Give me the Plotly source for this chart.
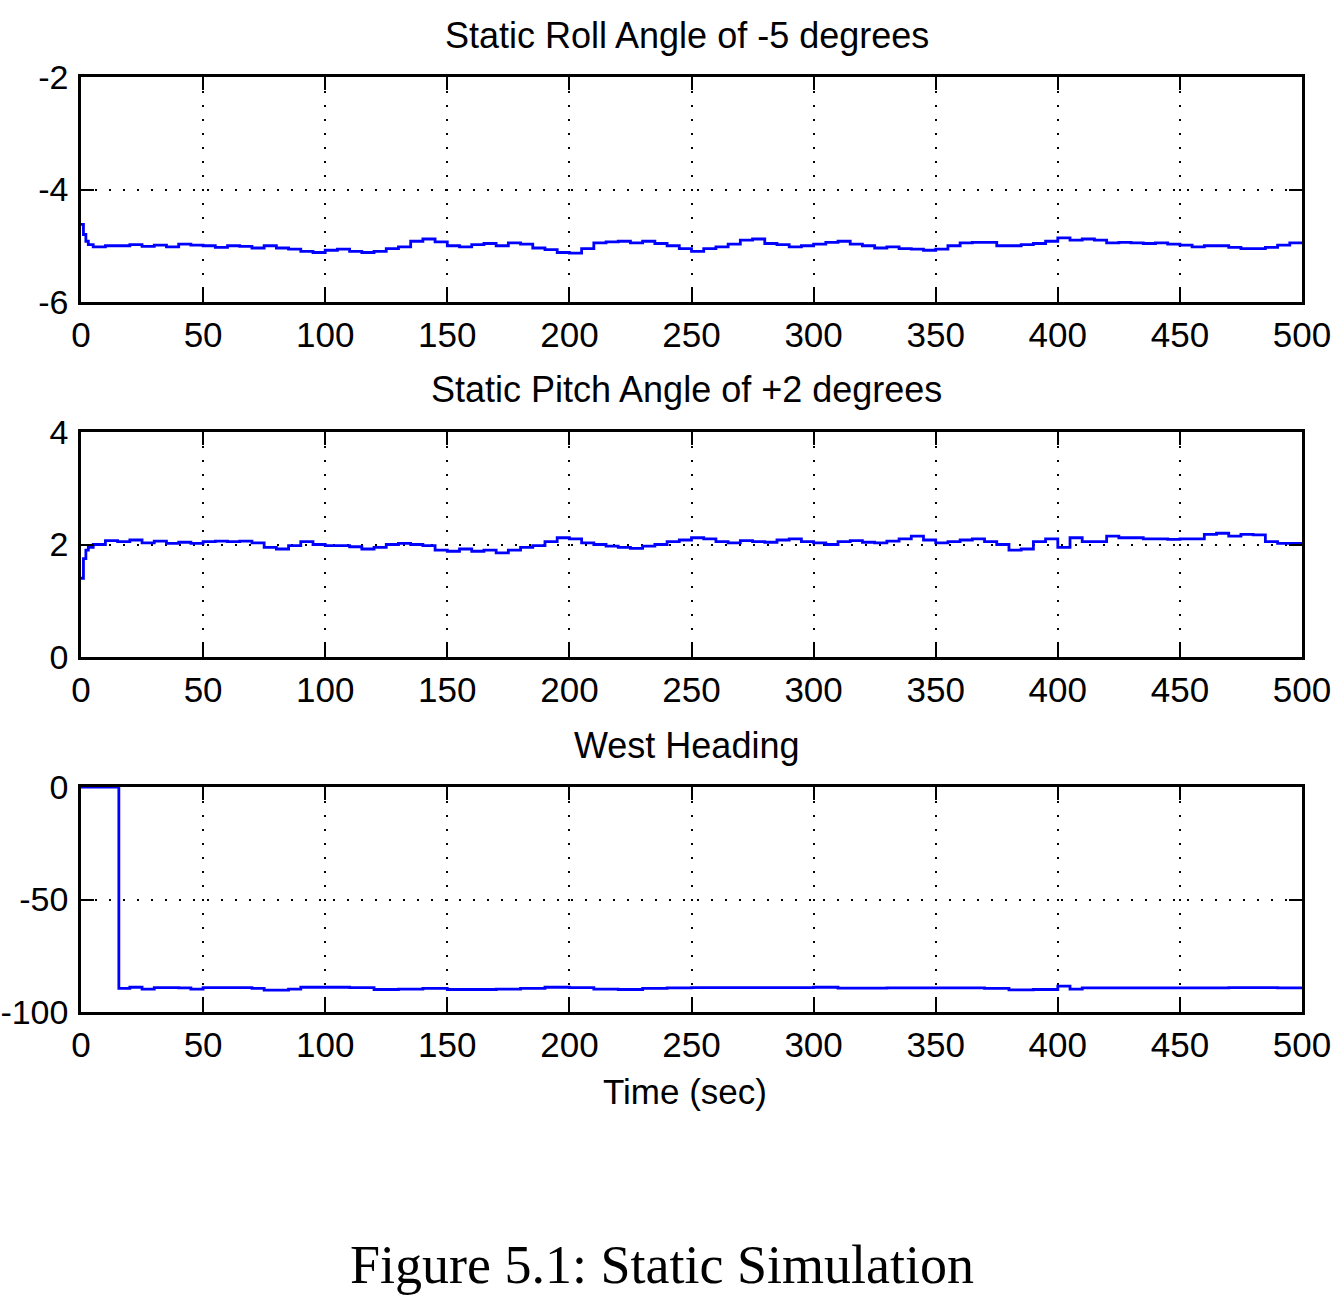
import plotly.graph_objects as go

W, H = 1335, 1304

# ---------------- data ----------------
roll_t = [0, 1, 2, 3, 5, 10, 15, 20, 25, 30, 35, 40, 45, 50, 55, 60, 65, 70, 75, 80, 85, 90, 95,
          100, 105, 110, 115, 120, 125, 130, 135, 140, 145, 150, 155, 160, 165, 170, 175, 180, 185,
          190, 195, 200, 205, 210, 215, 220, 225, 230, 235, 240, 245, 250, 255, 260, 265, 270, 275,
          280, 285, 290, 295, 300, 305, 310, 315, 320, 325, 330, 335, 340, 345, 350, 355, 360, 365,
          370, 375, 380, 385, 390, 395, 400, 405, 410, 415, 420, 425, 430, 435, 440, 445, 450, 455,
          460, 465, 470, 475, 480, 485, 490, 495, 500]
roll_v = [-4.62, -4.8, -4.92, -4.98, -5.02, -5.0, -5.0, -4.98, -5.01, -4.99, -5.02, -4.97, -4.99,
          -5.0, -5.03, -5.0, -5.01, -5.04, -5.0, -5.04, -5.06, -5.1, -5.12, -5.08, -5.06, -5.1,
          -5.12, -5.1, -5.05, -5.02, -4.92, -4.88, -4.93, -5.0, -5.02, -4.98, -4.96, -5.0, -4.95,
          -4.97, -5.04, -5.07, -5.12, -5.13, -5.05, -4.95, -4.93, -4.92, -4.95, -4.92, -4.96, -5.0,
          -5.05, -5.1, -5.05, -5.02, -4.97, -4.9, -4.88, -4.96, -4.98, -5.02, -5.0, -4.97, -4.94,
          -4.92, -4.97, -5.0, -5.04, -5.02, -5.05, -5.06, -5.08, -5.06, -5.0, -4.95, -4.94, -4.94,
          -5.0, -5.0, -4.98, -4.96, -4.92, -4.86, -4.9, -4.88, -4.9, -4.95, -4.94, -4.95, -4.96,
          -4.95, -4.97, -4.99, -5.02, -5.0, -5.0, -5.03, -5.05, -5.05, -5.03, -4.99, -4.95, -4.95]

pitch_t = roll_t
pitch_v = [1.4, 1.75, 1.9, 1.95, 2.0, 2.07, 2.05, 2.08, 2.03, 2.06, 2.02, 2.04, 2.02, 2.05, 2.06,
           2.05, 2.06, 2.03, 1.95, 1.92, 1.98, 2.05, 2.0, 1.98, 1.98, 1.96, 1.92, 1.95, 2.0, 2.02,
           2.0, 1.98, 1.9, 1.88, 1.92, 1.88, 1.9, 1.85, 1.9, 1.95, 1.98, 2.05, 2.12, 2.1, 2.03,
           2.0, 1.97, 1.95, 1.93, 1.97, 2.0, 2.05, 2.08, 2.12, 2.1, 2.05, 2.03, 2.07, 2.05, 2.04,
           2.08, 2.1, 2.05, 2.03, 2.0, 2.05, 2.07, 2.04, 2.03, 2.06, 2.1, 2.15, 2.08, 2.03, 2.05,
           2.08, 2.1, 2.05, 2.0, 1.9, 1.92, 2.05, 2.1, 1.95, 2.12, 2.05, 2.05, 2.15, 2.12, 2.12,
           2.1, 2.1, 2.09, 2.1, 2.1, 2.18, 2.2, 2.15, 2.18, 2.17, 2.05, 2.02, 2.02, 2.02]

head_t = [0, 15, 15.5, 20, 25, 30, 40, 45, 50, 60, 70, 75, 80, 85, 90, 100, 110, 120, 130, 140,
          150, 160, 170, 180, 190, 200, 210, 220, 230, 240, 250, 260, 270, 280, 290, 300, 310,
          320, 330, 340, 350, 360, 370, 380, 390, 400, 405, 410, 420, 430, 440, 450, 460, 470,
          480, 490, 500]
head_v = [0, 0, -89.5, -89.0, -89.8, -89.2, -89.3, -89.8, -89.2, -89.2, -89.5, -90.3, -90.3,
          -89.8, -89.0, -89.0, -89.2, -90.0, -89.8, -89.5, -90.0, -90.0, -89.8, -89.5, -89.0,
          -89.2, -89.8, -90.0, -89.5, -89.3, -89.2, -89.2, -89.2, -89.2, -89.2, -89.0, -89.4,
          -89.4, -89.3, -89.3, -89.3, -89.3, -89.5, -90.2, -90.0, -88.5, -89.8, -89.3, -89.3,
          -89.3, -89.3, -89.3, -89.3, -89.2, -89.2, -89.3, -89.3]

x_ticks = [0, 50, 100, 150, 200, 250, 300, 350, 400, 450, 500]
y_ticks = [[-6, -4, -2], [0, 2, 4], [-100, -50, 0]]
titles = ["Static Roll Angle of -5 degrees", "Static Pitch Angle of +2 degrees", "West Heading"]
x_label = "Time (sec)"
caption = "Figure 5.1: Static Simulation"

# ---------------- layout helpers ----------------
def py(pix):
    return 1 - pix / H

def px(pix):
    return pix / W

xdom = [px(81), px(1302)]
ydoms = [[py(302), py(77)], [py(657), py(432)], [py(1012), py(787)]]
yranges = [[-6, -2], [0, 4], [-100, 0]]

FONT = "Liberation Sans"
XTICKFONT = dict(family=FONT, size=35, color="#000")
YTICKFONT = dict(family=FONT, size=34, color="#000")

fig = go.Figure()
series = [(roll_t, roll_v), (pitch_t, pitch_v), (head_t, head_v)]
for i, (t, v) in enumerate(series):
    sfx = "" if i == 0 else str(i + 1)
    fig.add_trace(go.Scatter(x=t, y=v, mode="lines",
                             line=dict(color="#0000FF", width=2.8, shape="hv"),
                             xaxis="x" + sfx, yaxis="y" + sfx, showlegend=False))

axis_common = dict(showline=True, mirror="allticks", linecolor="#000", linewidth=2.5,
                   ticks="inside", ticklen=13, tickwidth=2, tickcolor="#000",
                   showgrid=True, gridcolor="#000", gridwidth=2, griddash="2px,12px",
                   zeroline=False, fixedrange=True, automargin=False)

layout = dict(width=W, height=H, margin=dict(l=0, r=0, t=0, b=0, autoexpand=False),
              paper_bgcolor="white", plot_bgcolor="white", showlegend=False)

for i in range(3):
    sfx = "" if i == 0 else str(i + 1)
    layout["xaxis" + sfx] = dict(axis_common, domain=xdom, range=[0, 500], tickvals=x_ticks,
                                 ticktext=[str(v) for v in x_ticks], tickfont=XTICKFONT,
                                 anchor="y" + sfx, ticklabelstandoff=0)
    layout["yaxis" + sfx] = dict(axis_common, domain=ydoms[i], range=yranges[i],
                                 tickvals=y_ticks[i], ticktext=[str(v) for v in y_ticks[i]],
                                 tickfont=YTICKFONT, anchor="x" + sfx, ticklabelstandoff=3)

fig.update_layout(**layout)

title_y = [35, 390, 745]
for ty, txt in zip(title_y, titles):
    fig.add_annotation(text=txt, x=px(687), y=py(ty), xref="paper", yref="paper",
                       showarrow=False, xanchor="center", yanchor="middle",
                       font=dict(family=FONT, size=36, color="#000"))

fig.add_annotation(text=x_label, x=px(685), y=py(1091), xref="paper", yref="paper",
                   showarrow=False, xanchor="center", yanchor="middle",
                   font=dict(family=FONT, size=35, color="#000"))

fig.add_annotation(text=caption, x=px(662), y=py(1265), xref="paper", yref="paper",
                   showarrow=False, xanchor="center", yanchor="middle",
                   font=dict(family="Liberation Serif", size=54, color="#000"))

fig.write_html("out.html")
